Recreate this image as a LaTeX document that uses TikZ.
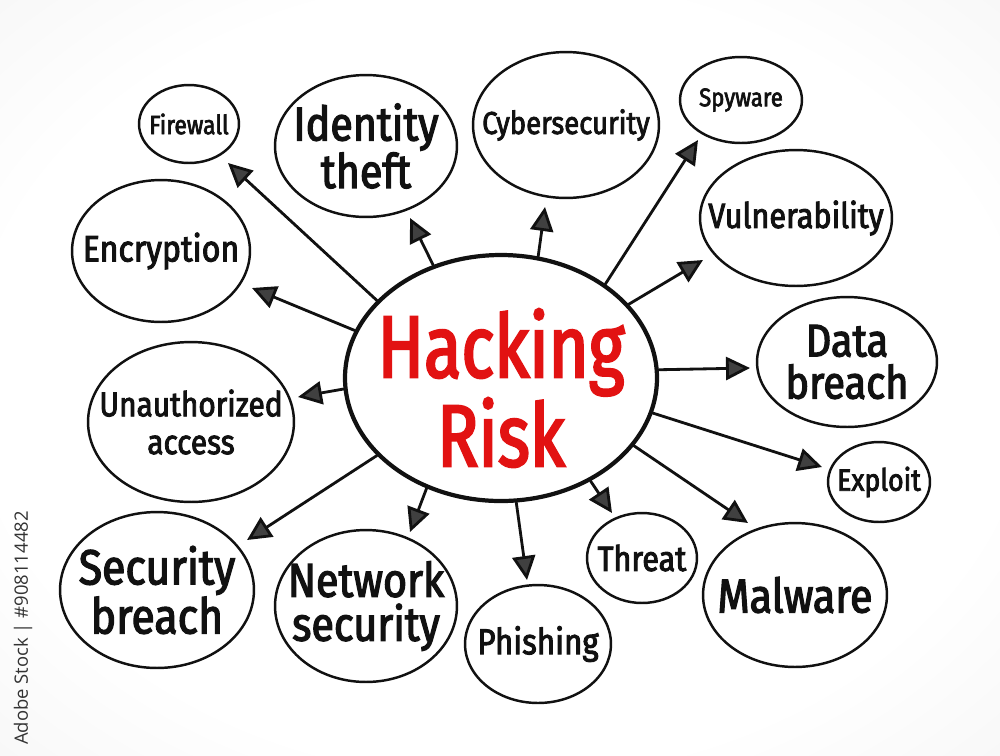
\documentclass[tikz,border=0pt]{standalone}
\usepackage{fontspec}
\usetikzlibrary{shapes.geometric, arrows.meta}
\newfontfamily\hand[FakeStretch=0.87, FakeBold=2.6]{Fira Sans}
\newfontfamily\handc[FakeStretch=0.78, FakeBold=2.6]{Fira Sans}
\newfontfamily\wmfont{Open Sans}
\definecolor{hubred}{RGB}{226,18,18}
\definecolor{ink}{RGB}{17,17,17}
\pgfdeclareradialshading{bgshade}{\pgfpoint{0bp}{0bp}}{color(0bp)=(white); color(26bp)=(white); color(50bp)=(black!7); color(75bp)=(black!13)}
\begin{document}
\begin{tikzpicture}[x=0.02cm, y=-0.02cm,
  bub/.style 2 args={ellipse, draw=ink, line width=1.4pt, fill=white, inner sep=0pt,
    minimum width=#1*0.04cm, minimum height=#2*0.04cm},
  lab/.style 2 args={font=\hand\fontsize{#1}{#2}\selectfont, align=center, text=ink, inner sep=0pt},
  arr/.style={draw=ink, line width=1.6pt, line cap=round,
    -{Triangle[length=0.48cm, width=0.46cm, fill=black!75]}},
]
\useasboundingbox (0,0) rectangle (1000,755);
\shade[shading=bgshade] (0,0) rectangle (1000,755);

% vertical credit text
\node[rotate=90, font=\wmfont\fontsize{10.5}{12}\selectfont, text=black!80, inner sep=0pt] (credit) at (23,628) {Adobe Stock | \#908114482};

% hub
\node[ellipse, draw=ink, line width=2.4pt, fill=white, inner sep=0pt,
  minimum width=312*0.02cm, minimum height=246*0.02cm,
  label={[font=\handc\fontsize{50}{44}\selectfont, align=center, text=hubred, inner sep=0pt, yshift=-0.2cm]center:Hacking\\Risk}] (hub) at (501,378) {};

% satellites
\node[bub={50}{39}, label={[lab={15}{18}]center:Firewall}] (fw) at (189,124) {};
\node[bub={91}{71}, label={[lab={27}{25}]center:Identity\\theft}] (id) at (366,146) {};
\node[bub={93}{73}, label={[lab={18}{20}]center:Cybersecurity}] (cy) at (566,125) {};
\node[bub={61}{43}, label={[lab={14.5}{16}]center:Spyware}] (sp) at (741,100) {};
\node[bub={96}{68}, label={[lab={20}{22}]center:Vulnerability}] (vu) at (796,218) {};
\node[bub={90}{65}, label={[lab={26}{24}]center:Data\\breach}] (db) at (847,362) {};
\node[bub={51}{40}, label={[lab={17.5}{20}]center:Exploit}] (ex) at (879,482) {};
\node[bub={92}{72}, label={[lab={27}{28}]center:Malware}] (ma) at (795,595) {};
\node[bub={55}{45}, label={[lab={20}{22}]center:Threat}] (th) at (642,558) {};
\node[bub={73}{59}, label={[lab={20.5}{22}]center:Phishing}] (ph) at (538,644) {};
\node[bub={91}{76}, label={[lab={27}{25}]center:Network\\security}] (ne) at (366,606) {};
\node[bub={97}{78}, label={[lab={28}{24.5}]center:Security\\breach}] (sb) at (157,590) {};
\node[bub={103}{80}, label={[lab={19.5}{21.5}]center:Unauthorized\\access}] (ua) at (191,422) {};
\node[bub={89}{71}, label={[lab={21}{22}]center:Encryption}] (en) at (161,251) {};

% arrow tips
\coordinate (tFw) at (228,163);
\coordinate (tId) at (410,218);
\coordinate (tCy) at (545,207);
\coordinate (tSp) at (698,140);
\coordinate (tVu) at (703,260);
\coordinate (tDb) at (750,368);
\coordinate (tEx) at (822,467);
\coordinate (tMa) at (748,523);
\coordinate (tTh) at (612,513);
\coordinate (tPh) at (527,580);
\coordinate (tNe) at (410,532);
\coordinate (tSb) at (247,540);
\coordinate (tUa) at (298,397);
\coordinate (tEn) at (252,288);

\draw[arr] (hub.148.2) -- (tFw);
\draw[arr] (hub.121.4) -- (tId);
\draw[arr] (hub.73.3) -- (tCy);
\draw[arr] (hub.42.7) -- (tSp);
\draw[arr] (hub.30.1) -- (tVu);
\draw[arr] (hub.3.7) -- (tDb);
\draw[arr] (hub.-13) -- (tEx);
\draw[arr] (hub.-27.2) -- (tMa);
\draw[arr] (hub.-49.5) -- (tTh);
\draw[arr] (hub.-83.6) -- (tPh);
\draw[arr] (hub.-124) -- (tNe);
\draw[arr] (hub.-148.9) -- (tSb);
\draw[arr] (hub.-176.7) -- (tUa);
\draw[arr] (hub.162.9) -- (tEn);
\end{tikzpicture}
\end{document}
